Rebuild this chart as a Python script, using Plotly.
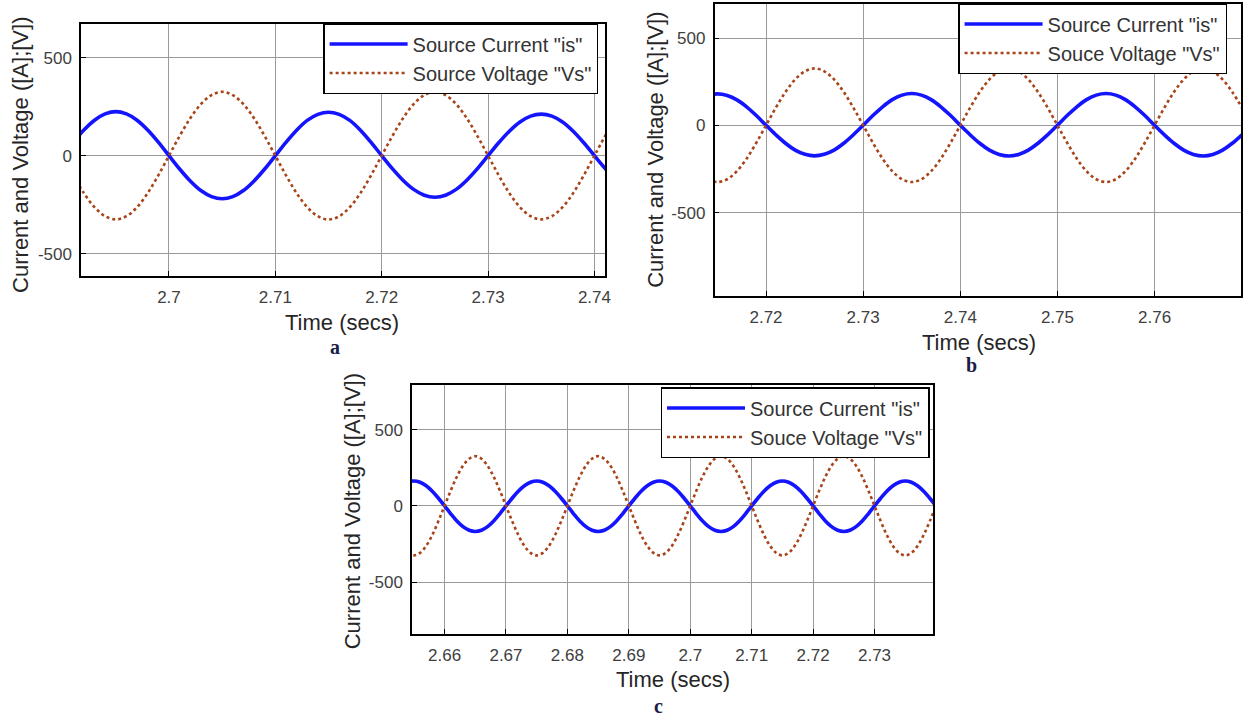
import plotly.graph_objects as go

# ---------------- data (1 ms sampling) ----------------
STEP = 0.001

# panel a : t = 2.691 ... 2.742
t0_a = 2.691
cur_a = [69, 131, 181, 213, 225, 213, 181, 131, 69, 0,
         -68, -129, -178, -209, -220, -209, -178, -129, -68, 0,
         68, 130, 180, 211, 222, 211, 180, 130, 68, 0,
         -66, -125, -172, -202, -212, -202, -172, -125, -66, 0,
         66, 125, 172, 202, 212, 202, 172, 125, 66, 0,
         -65, -124]
volt_a = [-100, -191, -263, -309, -325, -309, -263, -191, -100, 0,
          100, 191, 263, 309, 326, 309, 263, 191, 100, 0,
          -100, -191, -263, -309, -326, -309, -263, -191, -100, 0,
          100, 191, 263, 309, 325, 309, 263, 191, 100, 0,
          -100, -191, -263, -309, -325, -309, -263, -191, -100, 0,
          100, 191]

# panel b : t = 2.714 ... 2.769
t0_b = 2.714
cur_b = [171, 180, 171, 146, 106, 56, 0,
         -54, -103, -142, -166, -175, -166, -142, -103, -54, 0,
         56, 106, 147, 173, 182, 173, 147, 106, 56, 0,
         -54, -103, -142, -167, -176, -167, -142, -103, -54, 0,
         56, 106, 147, 173, 182, 173, 147, 106, 56, 0,
         -54, -103, -142, -167, -176, -167, -142, -103, -54]
volt_b = [-309, -325, -309, -263, -191, -100, 0,
          100, 191, 263, 309, 326, 309, 263, 191, 100, 0,
          -100, -191, -263, -309, -325, -309, -263, -191, -100, 0,
          100, 191, 263, 309, 326, 309, 263, 191, 100, 0,
          -100, -191, -263, -309, -325, -309, -263, -191, -100, 0,
          100, 191, 263, 309, 326, 309, 263, 191, 100]

# panel c : t = 2.654 ... 2.740
t0_c = 2.654
cur_c = [155, 163, 155, 132, 96, 50, 0,
         -52, -99, -136, -160, -168, -160, -136, -99, -52, 0,
         50, 96, 132, 155, 163, 155, 132, 96, 50, 0,
         -52, -99, -136, -160, -168, -160, -136, -99, -52, 0,
         50, 96, 132, 155, 163, 155, 132, 96, 50, 0,
         -52, -99, -136, -160, -168, -160, -136, -99, -52, 0,
         50, 96, 132, 155, 163, 155, 132, 96, 50, 0,
         -52, -99, -136, -160, -168, -160, -136, -99, -52, 0,
         50, 96, 132, 155, 163, 155, 132, 96, 50, 0]
volt_c = [-309, -325, -309, -263, -191, -100, 0,
          100, 191, 263, 309, 326, 309, 263, 191, 100, 0,
          -100, -191, -263, -309, -325, -309, -263, -191, -100, 0,
          100, 191, 263, 309, 326, 309, 263, 191, 100, 0,
          -100, -191, -263, -309, -325, -309, -263, -191, -100, 0,
          100, 191, 263, 309, 326, 309, 263, 191, 100, 0,
          -100, -191, -263, -309, -325, -309, -263, -191, -100, 0,
          100, 191, 263, 309, 326, 309, 263, 191, 100, 0,
          -100, -191, -263, -309, -325, -309, -263, -191, -100, 0]

xticks_a = [2.70, 2.71, 2.72, 2.73, 2.74]
xlabels_a = ["2.7", "2.71", "2.72", "2.73", "2.74"]
xticks_b = [2.72, 2.73, 2.74, 2.75, 2.76]
xlabels_b = ["2.72", "2.73", "2.74", "2.75", "2.76"]
xticks_c = [2.66, 2.67, 2.68, 2.69, 2.70, 2.71, 2.72, 2.73]
xlabels_c = ["2.66", "2.67", "2.68", "2.69", "2.7", "2.71", "2.72", "2.73"]
yticks = [-500, 0, 500]
ylabels = ["-500", "0", "500"]

names_a = ['Source Current "is"', 'Source Voltage "Vs"']
names_b = ['Source Current "is"', 'Souce Voltage "Vs"']
names_c = ['Source Current "is"', 'Souce Voltage "Vs"']

# ---------------- figure ----------------
W, H = 1250, 719
FONT = "Liberation Sans, Arial, sans-serif"
CUR_COLOR = "#1414FF"
VOLT_COLOR = "#A8441A"

fig = go.Figure()

panels = [
    ("x", "y", "legend", t0_a, cur_a, volt_a, names_a),
    ("x2", "y2", "legend2", t0_b, cur_b, volt_b, names_b),
    ("x3", "y3", "legend3", t0_c, cur_c, volt_c, names_c),
]
for xa, ya, lg, t0, cur, volt, names in panels:
    fig.add_trace(go.Scatter(x0=t0, dx=STEP, y=cur, mode="lines", name=names[0],
                             line=dict(color=CUR_COLOR, width=3.6, shape="spline"),
                             xaxis=xa, yaxis=ya, legend=lg))
    fig.add_trace(go.Scatter(x0=t0, dx=STEP, y=volt, mode="lines", name=names[1],
                             line=dict(color=VOLT_COLOR, width=2.6, dash="dot", shape="spline"),
                             xaxis=xa, yaxis=ya, legend=lg))


def px_dom_x(a, b):
    return [a / W, b / W]


def px_dom_y(top, bottom):
    return [1 - bottom / H, 1 - top / H]


axis_common = dict(
    showline=True, mirror=True, linecolor="black", linewidth=1.5,
    showgrid=True, gridcolor="#9A9A9A", gridwidth=1.2, zeroline=False,
    ticks="inside", ticklen=5, tickcolor="black",
    tickfont=dict(family=FONT, size=17, color="#404040"),
)

fig.update_layout(
    xaxis=dict(domain=px_dom_x(81.5, 608), range=[2.69174, 2.7410], anchor="y",
               tickvals=xticks_a, ticktext=xlabels_a, ticklabelstandoff=5, **axis_common),
    yaxis=dict(domain=px_dom_y(24, 276), range=[-614, 672], anchor="x",
               tickvals=yticks, ticktext=ylabels, ticklabelstandoff=4, **axis_common),
    xaxis2=dict(domain=px_dom_x(718, 1247), range=[2.7147, 2.7689], anchor="y2",
                tickvals=xticks_b, ticktext=xlabels_b, ticklabelstandoff=5, **axis_common),
    yaxis2=dict(domain=px_dom_y(4, 296), range=[-978, 695], anchor="x2",
                tickvals=yticks, ticktext=ylabels, ticklabelstandoff=4, **axis_common),
    xaxis3=dict(domain=px_dom_x(414, 938), range=[2.6547, 2.7396], anchor="y3",
                tickvals=xticks_c, ticktext=xlabels_c, ticklabelstandoff=5, **axis_common),
    yaxis3=dict(domain=px_dom_y(385, 634), range=[-841, 793], anchor="x3",
                tickvals=yticks, ticktext=ylabels, ticklabelstandoff=4, **axis_common),
)

legend_common = dict(
    xanchor="right", yanchor="top", bgcolor="white", bordercolor="black", borderwidth=1.5,
    font=dict(family=FONT, size=20, color="#333333"), itemwidth=78, tracegroupgap=0,
)
fig.update_layout(
    legend=dict(x=601 / W, y=1 - 23 / H, **legend_common),
    legend2=dict(x=1233 / W, y=1 - 3 / H, **legend_common),
    legend3=dict(x=934 / W, y=1 - 387 / H, **legend_common),
)

ann = []
title_font = dict(family=FONT, size=22, color="#262626")
ytitle = "Current and Voltage ([A];[V])"
for cx, cy in [(21, 155), (658, 150), (354, 511)]:
    ann.append(dict(text=ytitle, x=cx / W, y=1 - cy / H, xref="paper", yref="paper",
                    textangle=-90, showarrow=False, font=title_font,
                    xanchor="center", yanchor="middle"))
for cx, cy in [(344, 322), (984, 342), (676, 679)]:
    ann.append(dict(text="Time (secs)", x=cx / W, y=1 - cy / H, xref="paper", yref="paper",
                    showarrow=False, font=title_font, xanchor="center", yanchor="middle"))
label_font = dict(family="Liberation Serif, Times New Roman, serif", size=20, color="#1C1C48")
for lab, cx, cy in [("a", 337, 347), ("b", 976, 365), ("c", 662, 706)]:
    ann.append(dict(text="<b>" + lab + "</b>", x=cx / W, y=1 - cy / H, xref="paper", yref="paper",
                    showarrow=False, font=label_font, xanchor="center", yanchor="middle"))

fig.update_layout(
    annotations=ann,
    width=W, height=H,
    margin=dict(l=0, r=0, t=0, b=0),
    paper_bgcolor="white", plot_bgcolor="white",
    showlegend=True,
)

fig.write_html("out.html")
